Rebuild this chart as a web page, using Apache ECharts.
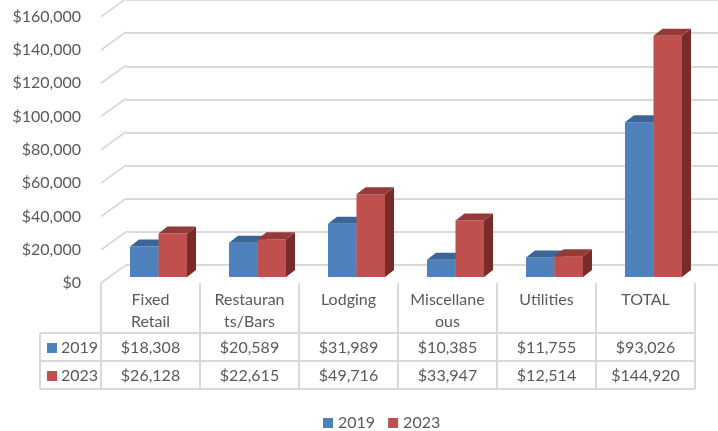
<!DOCTYPE html>
<html><head><meta charset="utf-8">
<script src="https://cdn.jsdelivr.net/npm/echarts@6/dist/echarts.min.js"></script>
<style>html,body{margin:0;padding:0;background:#fff}#c{width:718px;height:431px}</style>
</head><body><div id="c"></div>
<script>
const categories = ['Fixed Retail','Restaurants/Bars','Lodging','Miscellaneous','Utilities','TOTAL'];
const categoryLabels = ['Fixed\nRetail','Restauran\nts/Bars','Lodging','Miscellane\nous','Utilities','TOTAL'];
const seriesNames = ['2019','2023'];
const values2019 = [18308,20589,31989,10385,11755,93026];
const values2023 = [26128,22615,49716,33947,12514,144920];
const yMin = 0, yMax = 160000, yStep = 20000;
const yTicks = [0,20000,40000,60000,80000,100000,120000,140000,160000];

const colors = ['#4F81BD','#C0504D'];
const topColors = ['#3A6594','#943B39'];
const sideColors = ['#2F5179','#772C2A'];
const textColor = '#595959';
const lineColor = '#d9d9d9';
const FONT = 'Lato';
const FS = 16;

function money(v){ return '$' + v.toLocaleString('en-US'); }

function makeBarRender(s){
  return function(params, api){
    const i = api.value(0), v = api.value(1);
    const base = api.coord([i, 0]);
    const top = api.coord([i, v]);
    const bw = api.size([1,0])[0]*0.288;
    const c = base[0] + 8;
    const xl = s === 0 ? c - bw : c;
    const xr = xl + bw;
    const y0 = base[1] - 6, y1 = top[1] - 6;
    const dx = 9, dy = -7;
    return {type:'group', children:[
      {type:'polygon', shape:{points:[[xr,y1],[xr+dx,y1+dy],[xr+dx,y0+dy],[xr,y0]]}, style:{fill:sideColors[s]}},
      {type:'rect', shape:{x:xl,y:y1,width:bw,height:y0-y1}, style:{fill:colors[s]}},
      {type:'polygon', shape:{points:[[xl,y1],[xr,y1],[xr+dx,y1+dy],[xl+dx,y1+dy]]}, style:{fill:topColors[s]}}
    ]};
  };
}

function diagRender(params, api){
  const p = api.coord([0, api.value(1)]);
  const x = params.coordSys.x;
  return {type:'line', shape:{x1:x, y1:p[1], x2:x+25, y2:p[1]-18}, style:{stroke:lineColor, lineWidth:1.8}};
}

const rowY = [333, 361, 389];
const tableTop = 283;
const labelColX = 40;
function tableRender(params, api){
  const i = api.value(0);
  const c = api.coord([i, 0])[0];
  const w = api.size([1,0])[0];
  const L = c - w/2, R = c + w/2;
  const ch = [];
  const ln = (x1,y1,x2,y2)=>ch.push({type:'line', shape:{x1,y1,x2,y2}, style:{stroke:lineColor, lineWidth:2}});
  ln(L, tableTop, L, rowY[2]);
  if (i === categories.length - 1) ln(R, tableTop, R, rowY[2]);
  rowY.forEach(y => ln(L, y, R, y));
  const vals = [api.value(1), api.value(2)];
  vals.forEach((v, k) => ch.push({type:'text', style:{text: money(v), x:c, y:(rowY[k]+rowY[k+1])/2+1, fill:textColor, fontSize:FS, fontFamily:FONT, align:'center', verticalAlign:'middle'}}));
  if (i === 0) {
    rowY.forEach(y => ln(labelColX, y, L, y));
    ln(labelColX, rowY[0], labelColX, rowY[2]);
    seriesNames.forEach((n, k) => {
      const cy = (rowY[k]+rowY[k+1])/2 + 1;
      ch.push({type:'rect', shape:{x:labelColX+7, y:cy-5, width:10, height:10}, style:{fill:colors[k]}});
      ch.push({type:'text', style:{text:n, x:labelColX+21, y:cy, fill:textColor, fontSize:FS, fontFamily:FONT, align:'left', verticalAlign:'middle'}});
    });
  }
  return {type:'group', children: ch};
}

const chart = echarts.init(document.getElementById('c'), null, {renderer:'canvas'});
chart.setOption({
  animation:false,
  backgroundColor:'#fff',
  textStyle:{fontFamily:FONT},
  grid:[
    {left:101, right:23, top:16.67, bottom:148},
    {left:126, right:-2, top:-1.33, bottom:166}
  ],
  xAxis:[
    {type:'category', gridIndex:0, data:categories,
     axisLine:{show:false}, axisTick:{show:false},
     axisLabel:{interval:0, margin:6, color:textColor, fontSize:FS, fontFamily:FONT, lineHeight:22,
       formatter:(v, idx)=>categoryLabels[idx]}},
    {type:'category', gridIndex:1, data:categories, show:false}
  ],
  yAxis:[
    {type:'value', gridIndex:0, min:yMin, max:yMax, interval:yStep,
     axisLine:{show:false}, axisTick:{show:false}, splitLine:{show:false},
     axisLabel:{margin:20, color:textColor, fontSize:FS, fontFamily:FONT, formatter:v=>money(v)}},
    {type:'value', gridIndex:1, min:yMin, max:yMax, interval:yStep,
     axisLine:{show:false}, axisTick:{show:false}, axisLabel:{show:false},
     splitLine:{show:true, lineStyle:{color:lineColor, width:1.8}}}
  ],
  legend:{data:seriesNames, left:318, top:410, icon:'rect', itemWidth:10, itemHeight:10, itemGap:13,
    textStyle:{color:textColor, fontSize:FS, fontFamily:FONT}, selectedMode:false},
  series:[
    {type:'custom', name:'grid-diagonals', xAxisIndex:0, yAxisIndex:0, silent:true, z:1,
     data: yTicks.map(v=>[0,v]), renderItem: diagRender, encode:{x:0,y:1}},
    {type:'custom', name:seriesNames[0], xAxisIndex:0, yAxisIndex:0, silent:true, z:3,
     itemStyle:{color:colors[0]},
     data: values2019.map((v,i)=>[i,v]), renderItem: makeBarRender(0), encode:{x:0,y:1}},
    {type:'custom', name:seriesNames[1], xAxisIndex:0, yAxisIndex:0, silent:true, z:4,
     itemStyle:{color:colors[1]},
     data: values2023.map((v,i)=>[i,v]), renderItem: makeBarRender(1), encode:{x:0,y:1}},
    {type:'custom', name:'table', xAxisIndex:0, yAxisIndex:0, silent:true, z:5, clip:false,
     data: categories.map((_,i)=>[i, values2019[i], values2023[i]]), renderItem: tableRender, encode:{x:0,y:1}}
  ]
});
</script></body></html>
